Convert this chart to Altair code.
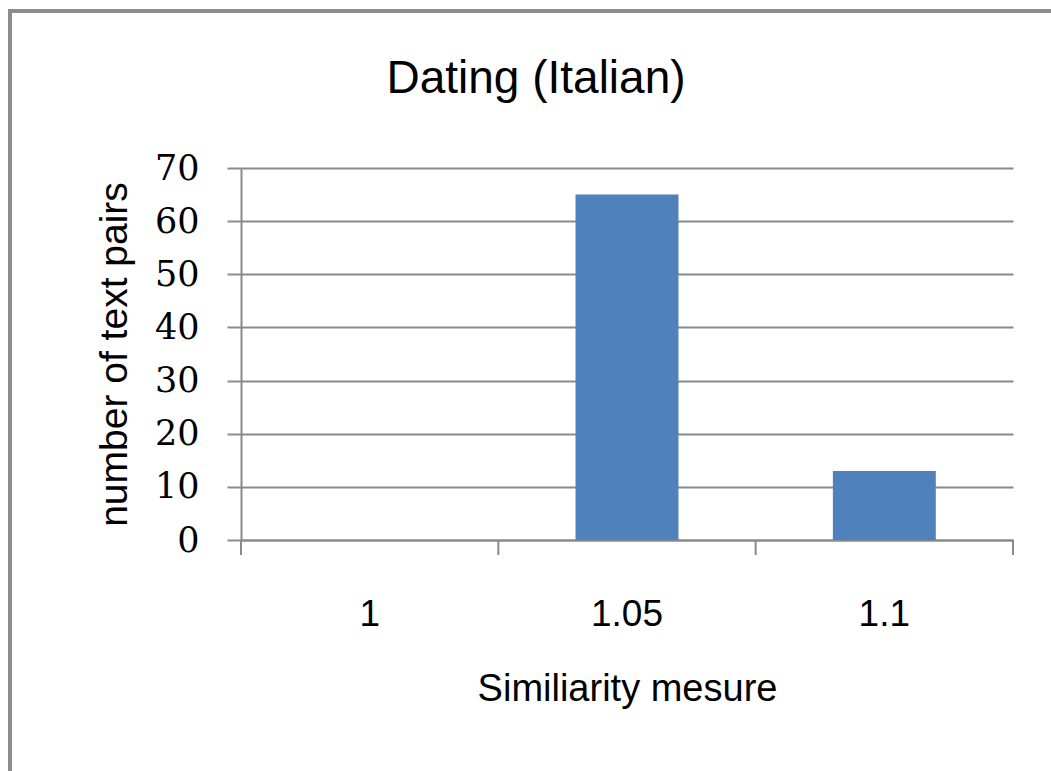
import altair as alt
import pandas as pd

# Histogram of similarity values for the Italian dating corpus
chart_title = "Dating (Italian)"
categories = ["1", "1.05", "1.1"]
counts = [0, 65, 13]

y_ticks = [0, 10, 20, 30, 40, 50, 60, 70]

GRID = "#8a8a8a"
BAR = "#4F81BD"
SANS = "Liberation Sans Narrow, Liberation Sans, Arial"
SERIF = "DejaVu Serif, Liberation Serif"

df = pd.DataFrame({"measure": categories, "pairs": counts})
last = pd.DataFrame({"measure": [categories[-1]]})

x_scale = alt.Scale(domain=categories, paddingInner=0, paddingOuter=0)
y_scale = alt.Scale(domain=[0, 70], nice=False)

bars = alt.Chart(df).mark_bar(color=BAR, width=alt.RelativeBandSize(0.4)).encode(
    x=alt.X(
        "measure:N",
        scale=x_scale,
        sort=categories,
        title="Similiarity mesure",
        axis=alt.Axis(
            labelAngle=0,
            ticks=False,
            domain=True,
            domainColor=GRID,
            domainWidth=2,
            labelFont=SANS,
            labelFontSize=37,
            labelColor="#000000",
            labelPadding=56,
            titleFont=SANS,
            titleFontSize=38,
            titleFontWeight="normal",
            titleColor="#000000",
            titlePadding=38,
        ),
    ),
    y=alt.Y(
        "pairs:Q",
        scale=y_scale,
        title="number of text pairs",
        axis=alt.Axis(
            values=y_ticks,
            grid=True,
            gridColor=GRID,
            gridWidth=2,
            gridOpacity=1,
            domain=True,
            domainColor=GRID,
            domainWidth=2,
            tickColor=GRID,
            tickWidth=2,
            tickSize=14,
            labelFont=SERIF,
            labelFontSize=35,
            labelFontWeight=500,
            labelColor="#000000",
            labelPadding=28,
            titleFont=SANS,
            titleFontSize=39,
            titleFontWeight="normal",
            titleColor="#000000",
            titlePadding=20,
        ),
    ),
)

# category boundary ticks below the x axis
edge_ticks = alt.Chart(df).mark_rule(color=GRID, strokeWidth=2).encode(
    x=alt.X("measure:N", scale=x_scale, sort=categories, bandPosition=0),
    y=alt.value(372),
    y2=alt.value(387),
)
end_tick = alt.Chart(last).mark_rule(color=GRID, strokeWidth=2).encode(
    x=alt.X("measure:N", scale=x_scale, sort=categories, bandPosition=1),
    y=alt.value(372),
    y2=alt.value(387),
)

# chart heading, centred over the whole chart area
heading = alt.Chart(last).mark_text(
    font=SANS, fontSize=46, color="#000000", align="center", baseline="alphabetic"
).encode(x=alt.value(295), y=alt.value(-75), text=alt.value(chart_title))

# outer frame of the chart area (left and top edges)
frame_left = alt.Chart(last).mark_rule(color="#8c8c8c", strokeWidth=4).encode(
    x=alt.value(-231), y=alt.value(-157), y2=alt.value(620)
)
frame_top = alt.Chart(last).mark_rule(color="#8c8c8c", strokeWidth=4).encode(
    x=alt.value(-233), x2=alt.value(820), y=alt.value(-157)
)

chart = (
    alt.layer(bars, edge_ticks, end_tick, heading, frame_left, frame_top)
    .properties(
        width=772,
        height=372,
        autosize=alt.AutoSizeParams(type="none"),
        padding={"left": 241, "top": 168, "right": 38, "bottom": 231},
        background="#ffffff",
    )
    .configure_view(stroke=None)
)

chart.save("out.html", embed_options={"renderer": "svg", "actions": False})
